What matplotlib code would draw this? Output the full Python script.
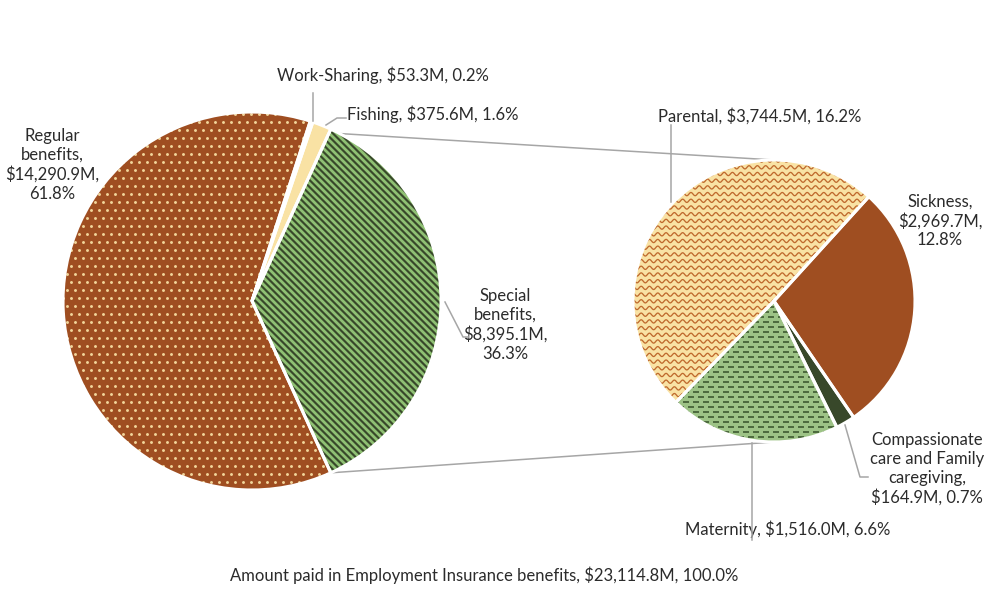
import numpy as np
import matplotlib.pyplot as plt
from matplotlib.patches import Wedge
from matplotlib.collections import LineCollection

# main pie, counter-clockwise from the right-hand side
main_names = ["Special\nbenefits", "Fishing", "Work-Sharing", "Regular\nbenefits"]
main_amounts = [8395.1, 375.6, 53.3, 14290.9]
# breakdown of special benefits (second pie)
sub_names = ["Sickness", "Parental", "Maternity", "Compassionate\ncare and Family\ncaregiving"]
sub_amounts = [2969.7, 3744.5, 1516.0, 164.9]
# slice sizes of the second pie as they are drawn in the picture (%)
sub_drawn = [28.7, 49.5, 19.6, 2.2]
total_name = "Amount paid in Employment Insurance benefits"
total_amount = 23114.8

BROWN = "#9F4E21"
YELLOW = "#F9E2A4"
DKGREEN = "#38482A"
LTGREEN = "#9DC386"
GREY = "#A6A6A6"
TXT = "#2B2B2B"

plt.rcParams['font.family'] = ['Lato', 'DejaVu Sans']

W, H = 992, 604
fig = plt.figure(figsize=(W / 100, H / 100), dpi=100)
ax = fig.add_axes([0, 0, 1, 1])


def Y(y):
    # picture rows -> data y
    return H - y


def label(name, amt, sep1=" ", sep2=" "):
    pct = amt / total_amount * 100
    return f"{name},{sep1}${amt:,.1f}M,{sep2}{pct:.1f}%"


# ---- pies
start_main = -0.5 * 360 * main_amounts[0] / sum(main_amounts)
w_main, _ = ax.pie(main_amounts, center=(252, Y(301)), radius=189,
                   startangle=start_main, explode=[0.027, 0, 0, 0],
                   colors=[DKGREEN, YELLOW, YELLOW, BROWN],
                   wedgeprops=dict(linewidth=0))
w_sub, _ = ax.pie(sub_drawn, center=(774, Y(301)), radius=141,
                  startangle=-55.6,
                  colors=[BROWN, YELLOW, LTGREEN, DKGREEN],
                  wedgeprops=dict(linewidth=0))


# ---- textures clipped to the slices
def dots(w, color, step=8):
    cx, cy = w.center
    r = w.r
    xs, ys = [], []
    for i, yy in enumerate(np.arange(cy - r, cy + r + step, step)):
        off = (step / 2) * (i % 2)
        for xx in np.arange(cx - r + off, cx + r + step, step):
            xs.append(xx)
            ys.append(yy)
    ln, = ax.plot(xs, ys, 'o', ms=2.1, mew=0, color=color, zorder=2)
    ln.set_clip_path(w)


def stripes(w, color, step=7.0, lw=2.0):
    cx, cy = w.center
    r = w.r
    segs = []
    for c in np.arange(-2 * r, 2 * r, step):
        segs.append([(cx - r, cy + r + c), (cx + r, cy - r + c)])
    lc = LineCollection(segs, colors=color, linewidths=lw, zorder=2)
    ax.add_collection(lc)
    lc.set_clip_path(w)


def waves(w, color, step=6.7, wl=8.3, amp=1.6, lw=0.95):
    cx, cy = w.center
    r = w.r
    xs = np.linspace(cx - r, cx + r, 900)
    segs = []
    for yy in np.arange(cy - r, cy + r + step, step):
        segs.append(np.column_stack([xs, yy + amp * np.sin(2 * np.pi * xs / wl)]))
    lc = LineCollection(segs, colors=color, linewidths=lw, zorder=2)
    ax.add_collection(lc)
    lc.set_clip_path(w)


def dashes(w, color, step=5, dl=6, gap=4, lw=1.2):
    cx, cy = w.center
    r = w.r
    segs = []
    for i, yy in enumerate(np.arange(cy - r, cy + r + step, step)):
        off = ((dl + gap) / 2) * (i % 2)
        for xx in np.arange(cx - r + off, cx + r, dl + gap):
            segs.append([(xx, yy), (xx + dl, yy)])
    lc = LineCollection(segs, colors=color, linewidths=lw, zorder=2)
    ax.add_collection(lc)
    lc.set_clip_path(w)


dots(w_main[3], "#F2D59A")
stripes(w_main[0], "#8FC073")
waves(w_sub[1], "#BF6A2E")
dashes(w_sub[2], "#3E5A30")

# white slice borders on top
for w in list(w_main) + list(w_sub):
    ax.add_patch(Wedge(w.center, w.r, w.theta1, w.theta2, fill=False,
                       ec="white", lw=2.2, zorder=3))

# ---- connector lines between the pies
sp = w_main[0]
sc = w_sub[0].center
for ang, side in [(sp.theta2 - 3, 1), (sp.theta1, -1)]:
    x0 = sp.center[0] + sp.r * np.cos(np.radians(ang))
    y0 = sp.center[1] + sp.r * np.sin(np.radians(ang))
    x1, y1 = sc[0], sc[1] + side * w_sub[0].r
    ax.plot([x0, x1], [y0, y1], color=GREY, lw=1.1, zorder=1)

# ---- labels
kw = dict(fontsize=12, color=TXT, linespacing=1.22)
ax.text(52, Y(165), label(main_names[3], main_amounts[3], "\n", "\n"),
        ha="center", va="center", **kw)
ax.text(277, Y(75), label(main_names[2], main_amounts[2]), ha="left", va="center", **kw)
ax.text(347, Y(114), label(main_names[1], main_amounts[1]), ha="left", va="center", **kw)
ax.text(505, Y(325), label(main_names[0], main_amounts[0], "\n", "\n"),
        ha="center", va="center", **kw)
ax.text(658, Y(116), label(sub_names[1], sub_amounts[1]), ha="left", va="center", **kw)
ax.text(940, Y(221), label(sub_names[0], sub_amounts[0], "\n", "\n"),
        ha="center", va="center", **kw)
ax.text(927, Y(469), label(sub_names[3], sub_amounts[3], "\n", " "),
        ha="center", va="center", **kw)
ax.text(685, Y(529), label(sub_names[2], sub_amounts[2]), ha="left", va="center", **kw)
ax.text(230, Y(575), f"{total_name}, ${total_amount:,.1f}M, 100.0%",
        ha="left", va="center", **kw)

# leader lines
leaders = [
    [(313, 93), (313, 121)],
    [(326, 125), (337, 118), (346, 118)],
    [(445, 302), (463, 337), (468, 337)],
    [(671, 125), (671, 202)],
    [(845, 425), (860, 477), (868, 477)],
    [(752, 443), (752, 540)],
]
for pts in leaders:
    ax.plot([p[0] for p in pts], [Y(p[1]) for p in pts], color=GREY, lw=1.1, zorder=4)

ax.set_xlim(0, W)
ax.set_ylim(0, H)
ax.set_aspect("auto")
ax.axis("off")
fig.savefig("out.png", dpi=100, facecolor="white")
